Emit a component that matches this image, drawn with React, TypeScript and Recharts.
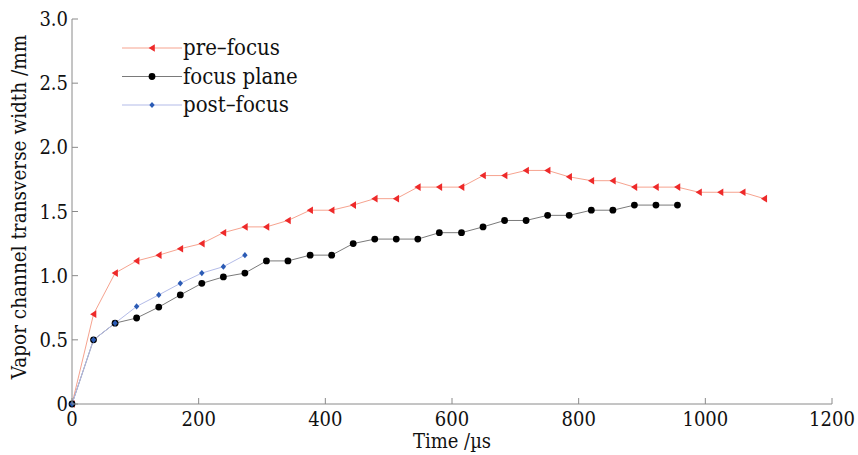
import React from "react";
import { LineChart, Line, XAxis, YAxis, Legend } from "recharts";

const timeUs = [
  0, 34, 68, 102, 137, 171, 205, 239, 273, 307, 341, 376, 410, 444, 478, 512, 546,
  580, 615, 649, 683, 717, 751, 785, 820, 854, 888, 922, 956, 990, 1024, 1059, 1093,
];
const preFocus = [
  0, 0.7, 1.02, 1.115, 1.16, 1.21, 1.25, 1.335, 1.38, 1.38, 1.43, 1.51, 1.51, 1.55,
  1.6, 1.6, 1.69, 1.69, 1.69, 1.78, 1.78, 1.82, 1.82, 1.77, 1.74, 1.74, 1.69, 1.69,
  1.69, 1.65, 1.65, 1.65, 1.6,
];
const focusPlane = [
  0, 0.5, 0.63, 0.67, 0.755, 0.85, 0.94, 0.99, 1.02, 1.115, 1.115, 1.16, 1.16, 1.25,
  1.285, 1.285, 1.285, 1.335, 1.335, 1.38, 1.43, 1.43, 1.47, 1.47, 1.51, 1.51, 1.55,
  1.55, 1.55,
];
const postFocus = [0, 0.5, 0.63, 0.76, 0.85, 0.94, 1.02, 1.07, 1.16];
const xTicks = [0, 200, 400, 600, 800, 1000, 1200];
const yTicks = [0, 0.5, 1, 1.5, 2, 2.5, 3];
const seriesNames = ["pre\u2013focus", "focus plane", "post\u2013focus"];

const FONT = "'DejaVu Serif Condensed', 'DejaVu Serif', serif";
const AXIS = "#8a8a8a";
const TEXT = "#111";
const RED_LINE = "#f6a38f";
const RED = "#ee2a2a";
const BLACK_LINE = "#7a7a7a";
const BLUE_LINE = "#b3bbe8";
const BLUE = "#2b5bb5";

const toData = (vals: number[]) => vals.map((w, i) => ({ t: timeUs[i], w }));

const tri = (cx: number, cy: number, color: string, key?: string) => (
  <polygon
    key={key}
    points={`${cx - 3.4},${cy} ${cx + 2.8},${cy - 3.8} ${cx + 2.8},${cy + 3.8}`}
    fill={color}
  />
);
const circ = (cx: number, cy: number, key?: string) => (
  <circle key={key} cx={cx} cy={cy} r={3.4} fill="#000" />
);
const diam = (cx: number, cy: number, color: string, key?: string) => (
  <polygon
    key={key}
    points={`${cx},${cy - 3.1} ${cx + 2.7},${cy} ${cx},${cy + 3.1} ${cx - 2.7},${cy}`}
    fill={color}
  />
);

const XTick = (props: any) => {
  const { x, y, payload } = props;
  return (
    <g>
      <line x1={x} y1={y} x2={x} y2={y - 6} stroke={AXIS} />
      <text x={x} y={y + 22} textAnchor="middle" fontFamily={FONT} fontSize={20} fill={TEXT}>
        {payload.value}
      </text>
    </g>
  );
};

const YTick = (props: any) => {
  const { x, y, payload } = props;
  const v = payload.value === 0 ? "0" : payload.value.toFixed(1);
  return (
    <g>
      <line x1={x} y1={y} x2={x + 6} y2={y} stroke={AXIS} />
      <text x={x - 4} y={y + 7} textAnchor="end" fontFamily={FONT} fontSize={20} fill={TEXT}>
        {v}
      </text>
    </g>
  );
};

const renderLegend = () => {
  const rows = [
    { line: RED_LINE, mark: (cx: number, cy: number) => tri(cx, cy, RED) },
    { line: BLACK_LINE, mark: (cx: number, cy: number) => circ(cx, cy) },
    { line: BLUE_LINE, mark: (cx: number, cy: number) => diam(cx, cy, BLUE) },
  ];
  return (
    <svg width={240} height={90}>
      {rows.map((r, i) => {
        const cy = 14 + i * 28.5;
        return (
          <g key={i}>
            <line x1={12} y1={cy} x2={72} y2={cy} stroke={r.line} />
            {r.mark(42, cy)}
            <text x={73} y={cy + 7} fontFamily={FONT} fontSize={22} fill={TEXT}>
              {seriesNames[i]}
            </text>
          </g>
        );
      })}
    </svg>
  );
};

export default function App() {
  return (
    <div style={{ position: "absolute", left: 0, top: 0, background: "#fff" }}>
      <LineChart
        width={858}
        height={455}
        margin={{ top: 19, right: 26, left: 0, bottom: 0 }}
      >
        <XAxis
          type="number"
          dataKey="t"
          domain={[0, 1200]}
          ticks={xTicks}
          height={51}
          stroke={AXIS}
          tickLine={false}
          tickSize={0}
          tickMargin={0}
          tick={<XTick />}
          allowDuplicatedCategory={false}
          label={() => (
            <text x={452} y={448} textAnchor="middle" fontFamily={FONT} fontSize={20} fill={TEXT}>
              Time /µs
            </text>
          )}
        />
        <YAxis
          type="number"
          dataKey="w"
          domain={[0, 3]}
          ticks={yTicks}
          width={72}
          stroke={AXIS}
          tickLine={false}
          tickSize={0}
          tickMargin={0}
          tick={<YTick />}
          label={() => (
            <text
              x={26}
              y={207}
              transform="rotate(-90 26 207)"
              textAnchor="middle"
              fontFamily={FONT}
              fontSize={20.5}
              fill={TEXT}
            >
              Vapor channel transverse width /mm
            </text>
          )}
        />
        <Legend
          layout="vertical"
          align="center"
          verticalAlign="middle"
          content={renderLegend}
          wrapperStyle={{ left: 110, top: 34, width: 240, height: 90 }}
        />
        <Line
          data={toData(preFocus)}
          dataKey="w"
          name={seriesNames[0]}
          stroke={RED_LINE}
          strokeWidth={1}
          isAnimationActive={false}
          dot={(p: any) => tri(p.cx, p.cy, RED, `pre-${p.index}`)}
          activeDot={false}
        />
        <Line
          data={toData(focusPlane)}
          dataKey="w"
          name={seriesNames[1]}
          stroke={BLACK_LINE}
          strokeWidth={1}
          isAnimationActive={false}
          dot={(p: any) => circ(p.cx, p.cy, `fp-${p.index}`)}
          activeDot={false}
        />
        <Line
          data={toData(postFocus)}
          dataKey="w"
          name={seriesNames[2]}
          stroke={BLUE_LINE}
          strokeWidth={1}
          isAnimationActive={false}
          dot={(p: any) => diam(p.cx, p.cy, BLUE, `post-${p.index}`)}
          activeDot={false}
        />
      </LineChart>
    </div>
  );
}
